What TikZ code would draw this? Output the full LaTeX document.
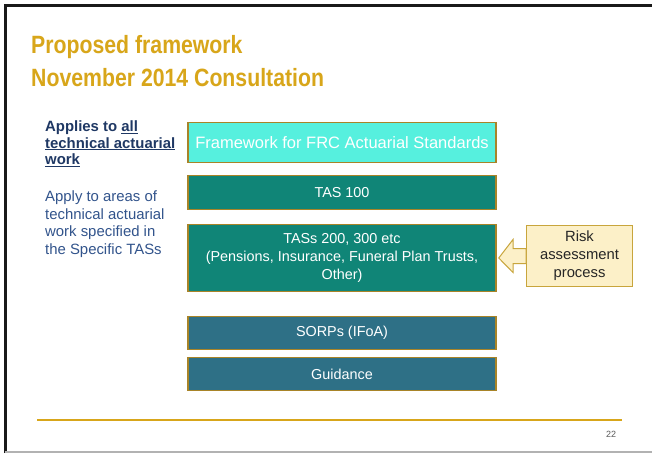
\documentclass[tikz,border=0pt]{standalone}
\usepackage{fontspec}
\setmainfont{Liberation Sans}
\newfontfamily\titlefont[FakeStretch=0.85]{Liberation Sans}
\usetikzlibrary{calc}
\definecolor{titlegold}{RGB}{216,166,26}
\definecolor{navy}{RGB}{31,56,100}
\definecolor{steel}{RGB}{50,84,140}
\definecolor{aqua}{RGB}{86,240,222}
\definecolor{teal1}{RGB}{16,133,119}
\definecolor{slate}{RGB}{46,112,134}
\definecolor{boxborder}{RGB}{168,132,40}
\definecolor{riskfill}{RGB}{252,240,200}
\definecolor{riskborder}{RGB}{200,165,60}
\begin{document}
\begin{tikzpicture}[x=1pt,y=-1pt,
  stdbox/.style={draw=boxborder, line width=1.5pt, minimum width=308, text=white,
    font=\fontsize{14.4}{18}\selectfont, align=center, inner sep=0},
  titletext/.style={anchor=base west, inner sep=0, text=titlegold,
    font=\titlefont\bfseries\fontsize{25}{30}\selectfont},
  risk/.style={draw=riskborder, fill=riskfill, line width=1pt, minimum width=106,
    minimum height=61, align=center, inner sep=0, text=black!85,
    font=\fontsize{14.8}{18}\selectfont},
  sidetext/.style={anchor=north west, inner sep=0, align=left}
]
\useasboundingbox (0,0) rectangle (652,453);
\fill[white] (0,0) rectangle (652,453);
\draw[black!90, line width=3pt] (5,453) -- (5,5) -- (652,5);
\draw[black!30, line width=1.5pt] (5,452.2) -- (652,452.2);

\node[titletext] (t1) at (31,53) {Proposed framework};
\node[titletext] (t2) at (31,86) {November 2014 Consultation};

\node[sidetext, text=navy, font=\bfseries\fontsize{14.9}{16.8}\selectfont] (applies) at (45,120.2)
  {Applies to \underline{all}\\\underline{technical actuarial}\\\underline{work}};
\node[sidetext, text=steel, font=\fontsize{14.9}{17.5}\selectfont] (apply) at (45,190.8)
  {Apply to areas of\\technical actuarial\\work specified in\\the Specific TASs};

\node[stdbox, fill=aqua, minimum height=40, font=\fontsize{16.5}{20}\selectfont] (frame) at (342,142.5)
  {Framework for FRC Actuarial Standards};
\node[stdbox, fill=teal1, minimum height=34] (tas100) at (342,192.5) {TAS 100};
\node[stdbox, fill=teal1, minimum height=67] (tas200) at (342,258)
  {TASs 200, 300 etc\\(Pensions, Insurance, Funeral Plan Trusts,\\Other)};
\node[stdbox, fill=slate, minimum height=33] (sorps) at (342,333) {SORPs (IFoA)};
\node[stdbox, fill=slate, minimum height=33] (guid) at (342,374) {Guidance};

\node[risk] (riskbox) at (579.5,256) {Risk\\assessment\\process};

\draw[draw=riskborder, fill=riskfill, line width=1pt, line join=miter]
  ($(riskbox.west)+(0,-7.5)$) -- ++(-13,0) -- ++(0,-9)
  -- ($(tas200.east)+(2,0)$)
  -- ($(riskbox.west)+(-13,16.5)$) -- ++(0,-9) -- ($(riskbox.west)+(0,7.5)$) -- cycle;

\coordinate (fl) at (37,420);
\coordinate (fr) at (622,420);
\draw[titlegold, line width=1.3pt] (fl) -- (fr);
\node[font=\fontsize{9}{10}\selectfont, text=black!65, inner sep=0] (pg) at (611,434) {22};
\end{tikzpicture}
\end{document}
